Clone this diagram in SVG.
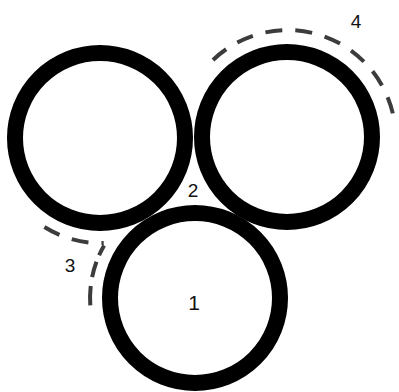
<svg xmlns="http://www.w3.org/2000/svg" width="399" height="392" viewBox="0 0 399 392">
  <style>
    .ring { fill: none; stroke: #000; stroke-width: 16; }
    .dash { fill: none; stroke: #3c3c3c; stroke-width: 4; stroke-dasharray: 17 13; }
    .lbl { font-family: "Liberation Sans", Arial, sans-serif; font-size: 19px; fill: #111; text-anchor: middle; }
  </style>
  <rect width="399" height="392" fill="#fff"/>
  <g id="connectors">
    <path class="dash" d="M213,60 A108,108 0 0 1 395,126"/>
    <path class="dash" d="M44.4,227 A105,105 0 0 0 103.7,243"/>
    <path class="dash" style="stroke-dasharray: 11 7 16 9 30" d="M104.1,245.5 A105,105 0 0 0 90.3,305.3"/>
  </g>
  <g id="node-left">
    <circle class="ring" cx="100" cy="138" r="85"/>
  </g>
  <g id="node-right">
    <circle class="ring" cx="287" cy="137" r="85"/>
  </g>
  <g id="node-bottom">
    <circle class="ring" cx="195" cy="298" r="85"/>
    <text class="lbl" x="194" y="310" style="font-size:21px">1</text>
  </g>
  <g id="label-2"><text class="lbl" x="193" y="197">2</text></g>
  <g id="label-3"><text class="lbl" x="70" y="272">3</text></g>
  <g id="label-4"><text class="lbl" x="356" y="28">4</text></g>
</svg>
